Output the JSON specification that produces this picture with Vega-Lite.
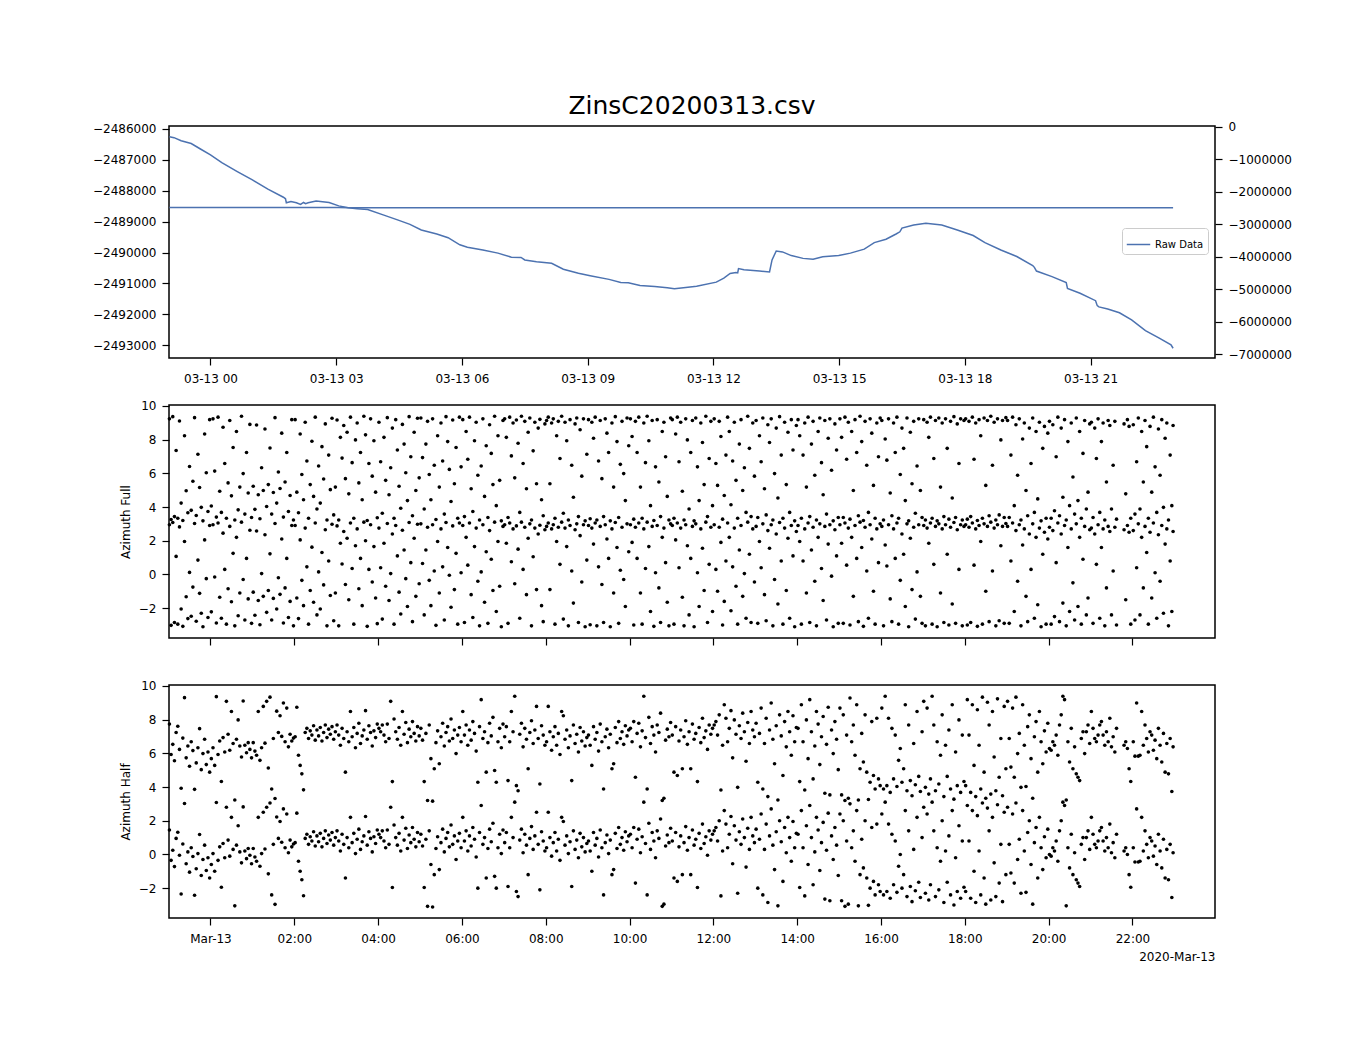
{
"$schema":"https://vega.github.io/schema/vega-lite/v6.json",
"background":"white",
"padding":{"left":91,"top":92,"right":5,"bottom":5},
"config":{"font":"DejaVu Sans","view":{"stroke":"black","strokeWidth":1.5},
"axis":{"domain":false,"grid":false,"tickColor":"black","tickSize":7,"tickWidth":1.2,"labelFontSize":12,"labelColor":"black","labelPadding":6,"titleFontSize":12,"titleFontWeight":"normal","titleColor":"black","labelFont":"DejaVu Sans","titleFont":"DejaVu Sans"}},
"bounds":"flush",
"spacing":47,
"datasets":{
"raw":[{"t":-0.98,"v":-2486250},{"t":-0.87,"v":-2486280},{"t":-0.7,"v":-2486380},{"t":-0.46,"v":-2486470},{"t":-0.25,"v":-2486640},{"t":0.0,"v":-2486840},{"t":0.27,"v":-2487090},{"t":0.64,"v":-2487380},{"t":1.0,"v":-2487650},{"t":1.37,"v":-2487950},{"t":1.74,"v":-2488210},{"t":1.79,"v":-2488260},{"t":1.81,"v":-2488390},{"t":1.92,"v":-2488350},{"t":2.05,"v":-2488390},{"t":2.15,"v":-2488440},{"t":2.22,"v":-2488380},{"t":2.27,"v":-2488420},{"t":2.33,"v":-2488390},{"t":2.52,"v":-2488330},{"t":2.83,"v":-2488380},{"t":3.06,"v":-2488490},{"t":3.29,"v":-2488550},{"t":3.5,"v":-2488580},{"t":3.75,"v":-2488610},{"t":4.12,"v":-2488780},{"t":4.48,"v":-2488950},{"t":4.76,"v":-2489090},{"t":5.03,"v":-2489270},{"t":5.4,"v":-2489400},{"t":5.67,"v":-2489520},{"t":5.95,"v":-2489750},{"t":6.13,"v":-2489830},{"t":6.5,"v":-2489920},{"t":6.86,"v":-2490020},{"t":7.18,"v":-2490150},{"t":7.41,"v":-2490160},{"t":7.5,"v":-2490240},{"t":7.78,"v":-2490300},{"t":8.14,"v":-2490350},{"t":8.42,"v":-2490540},{"t":8.78,"v":-2490670},{"t":9.06,"v":-2490750},{"t":9.51,"v":-2490870},{"t":9.79,"v":-2490970},{"t":9.97,"v":-2490980},{"t":10.25,"v":-2491070},{"t":10.6,"v":-2491100},{"t":10.9,"v":-2491140},{"t":11.07,"v":-2491170},{"t":11.34,"v":-2491130},{"t":11.6,"v":-2491090},{"t":12.07,"v":-2490960},{"t":12.25,"v":-2490830},{"t":12.4,"v":-2490680},{"t":12.54,"v":-2490650},{"t":12.58,"v":-2490660},{"t":12.6,"v":-2490520},{"t":12.73,"v":-2490560},{"t":13.1,"v":-2490600},{"t":13.34,"v":-2490630},{"t":13.4,"v":-2490240},{"t":13.5,"v":-2489950},{"t":13.65,"v":-2489980},{"t":13.86,"v":-2490100},{"t":14.14,"v":-2490190},{"t":14.38,"v":-2490220},{"t":14.61,"v":-2490140},{"t":14.99,"v":-2490100},{"t":15.27,"v":-2490020},{"t":15.6,"v":-2489890},{"t":15.84,"v":-2489680},{"t":16.12,"v":-2489570},{"t":16.36,"v":-2489400},{"t":16.45,"v":-2489330},{"t":16.5,"v":-2489210},{"t":16.78,"v":-2489110},{"t":17.07,"v":-2489050},{"t":17.45,"v":-2489110},{"t":17.82,"v":-2489270},{"t":18.2,"v":-2489450},{"t":18.48,"v":-2489680},{"t":18.86,"v":-2489920},{"t":19.24,"v":-2490130},{"t":19.62,"v":-2490420},{"t":19.66,"v":-2490480},{"t":19.71,"v":-2490600},{"t":20.08,"v":-2490780},{"t":20.42,"v":-2490970},{"t":20.45,"v":-2491160},{"t":20.75,"v":-2491320},{"t":21.12,"v":-2491560},{"t":21.16,"v":-2491720},{"t":21.2,"v":-2491760},{"t":21.41,"v":-2491830},{"t":21.69,"v":-2491950},{"t":21.98,"v":-2492180},{"t":22.31,"v":-2492530},{"t":22.64,"v":-2492770},{"t":22.92,"v":-2492990},{"t":22.97,"v":-2493100}],
"az":[
{"t":-0.98,"f":2.95,"f2":9.23,"h":1.45,"h2":7.73},{"t":-0.94,"f":-3.02,"f2":3.26,"h":-0.35,"h2":5.93},{"t":-0.90,"f":3.08,"f2":9.36,"h":0.25,"h2":6.53},{"t":-0.86,"f":-2.85,"f2":3.43,"h":-0.72,"h2":5.56},{"t":-0.82,"f":1.07,"f2":7.35,"h":0.95,"h2":7.23},{"t":-0.78,"f":-2.95,"f2":3.33,"h":1.32,"h2":7.60},{"t":-0.74,"f":2.82,"f2":9.10,"h":-0.05,"h2":6.23},{"t":-0.70,"f":-2.05,"f2":4.23,"h":-2.35,"h2":3.93},{"t":-0.66,"f":-3.08,"f2":3.20,"h":0.62,"h2":6.90},{"t":-0.62,"f":1.95,"f2":8.23,"h":3.02,"h2":9.30},{"t":-0.58,"f":-1.32,"f2":4.96,"h":-0.55,"h2":5.73},{"t":-0.54,"f":-2.62,"f2":3.66,"h":0.15,"h2":6.43},{"t":-0.50,"f":0.12,"f2":6.40,"h":-1.05,"h2":5.23},{"t":-0.46,"f":-2.48,"f2":3.80,"h":0.40,"h2":6.68},{"t":-0.42,"f":-0.75,"f2":5.53,"h":-0.12,"h2":6.16},{"t":-0.38,"f":3.02,"f2":9.30,"h":-2.42,"h2":3.86},{"t":-0.34,"f":-2.78,"f2":3.50,"h":-0.85,"h2":5.43},{"t":-0.30,"f":0.85,"f2":7.13,"h":0.05,"h2":6.33},{"t":-0.26,"f":-1.12,"f2":5.16,"h":1.18,"h2":7.46},{"t":-0.22,"f":-2.30,"f2":3.98,"h":-1.25,"h2":5.03},{"t":-0.18,"f":-3.10,"f2":3.18,"h":-0.30,"h2":5.98},{"t":-0.14,"f":2.05,"f2":8.33,"h":0.55,"h2":6.83},{"t":-0.10,"f":-0.25,"f2":6.03,"h":-0.95,"h2":5.33},{"t":-0.06,"f":-2.55,"f2":3.73,"h":-0.20,"h2":6.08},{"t":-0.02,"f":2.90,"f2":9.18,"h":-1.40,"h2":4.88},
{"t":0.02,"f":-2.22,"f2":4.06,"h":-0.60,"h2":5.68},{"t":0.06,"f":2.95,"f2":9.23,"h":0.05,"h2":6.33},{"t":0.10,"f":-0.15,"f2":6.13,"h":-1.00,"h2":5.28},{"t":0.14,"f":-2.88,"f2":3.40,"h":3.08,"h2":9.36},{"t":0.18,"f":3.05,"f2":9.33,"h":-0.35,"h2":5.93},{"t":0.22,"f":-1.35,"f2":4.93,"h":0.45,"h2":6.73},{"t":0.26,"f":-2.60,"f2":3.68,"h":-1.95,"h2":4.33},{"t":0.30,"f":2.45,"f2":8.73,"h":0.65,"h2":6.93},{"t":0.34,"f":0.30,"f2":6.58,"h":-0.20,"h2":6.08},{"t":0.38,"f":-2.95,"f2":3.33,"h":2.80,"h2":9.08},{"t":0.42,"f":-0.85,"f2":5.43,"h":0.85,"h2":7.13},{"t":0.46,"f":2.85,"f2":9.13,"h":-0.10,"h2":6.18},{"t":0.50,"f":-1.62,"f2":4.66,"h":2.20,"h2":8.48},{"t":0.54,"f":1.25,"f2":7.53,"h":0.30,"h2":6.58},{"t":0.58,"f":-3.05,"f2":3.23,"h":-3.05,"h2":3.23},{"t":0.62,"f":2.20,"f2":8.48,"h":0.55,"h2":6.83},{"t":0.66,"f":-2.45,"f2":3.83,"h":1.70,"h2":7.98},{"t":0.70,"f":-1.10,"f2":5.18,"h":0.15,"h2":6.43},{"t":0.74,"f":3.10,"f2":9.38,"h":-0.50,"h2":5.78},{"t":0.78,"f":-0.30,"f2":5.98,"h":2.82,"h2":9.10},{"t":0.82,"f":-2.70,"f2":3.58,"h":0.20,"h2":6.48},{"t":0.86,"f":0.95,"f2":7.23,"h":-0.25,"h2":6.03},{"t":0.90,"f":-1.45,"f2":4.83,"h":0.35,"h2":6.63},{"t":0.94,"f":2.62,"f2":8.90,"h":-0.05,"h2":6.23},{"t":0.98,"f":-2.90,"f2":3.38,"h":-0.55,"h2":5.73},
{"t":1.02,"f":-1.05,"f2":5.23,"h":0.35,"h2":6.63},{"t":1.06,"f":-2.42,"f2":3.86,"h":-0.15,"h2":6.13},{"t":1.10,"f":2.58,"f2":8.86,"h":-0.40,"h2":5.88},{"t":1.14,"f":-1.55,"f2":4.73,"h":2.20,"h2":8.48},{"t":1.18,"f":-2.98,"f2":3.30,"h":-0.70,"h2":5.58},{"t":1.22,"f":0.05,"f2":6.33,"h":0.05,"h2":6.33},{"t":1.26,"f":-1.30,"f2":4.98,"h":2.50,"h2":8.78},{"t":1.30,"f":2.35,"f2":8.63,"h":0.32,"h2":6.60},{"t":1.34,"f":-2.25,"f2":4.03,"h":2.80,"h2":9.08},{"t":1.38,"f":-0.95,"f2":5.33,"h":-1.15,"h2":5.13},{"t":1.42,"f":1.22,"f2":7.50,"h":3.05,"h2":9.33},{"t":1.46,"f":-2.70,"f2":3.58,"h":-2.40,"h2":3.88},{"t":1.50,"f":-1.42,"f2":4.86,"h":0.60,"h2":6.88},{"t":1.54,"f":3.02,"f2":9.30,"h":-2.96,"h2":3.32},{"t":1.58,"f":-2.05,"f2":4.23,"h":2.22,"h2":8.50},{"t":1.62,"f":-0.20,"f2":6.08,"h":0.95,"h2":7.23},{"t":1.66,"f":-1.18,"f2":5.10,"h":1.95,"h2":8.23},{"t":1.70,"f":2.10,"f2":8.38,"h":0.72,"h2":7.00},{"t":1.74,"f":-2.88,"f2":3.40,"h":2.70,"h2":8.98},{"t":1.78,"f":-0.80,"f2":5.48,"h":0.40,"h2":6.68},{"t":1.82,"f":0.95,"f2":7.23,"h":2.40,"h2":8.68},{"t":1.86,"f":-2.55,"f2":3.73,"h":0.10,"h2":6.38},{"t":1.90,"f":-1.60,"f2":4.68,"h":0.85,"h2":7.13},{"t":1.94,"f":2.90,"f2":9.18,"h":0.45,"h2":6.73},{"t":1.98,"f":-3.05,"f2":3.23,"h":0.62,"h2":6.90},
{"t":2.02,"f":2.90,"f2":9.18,"h":0.70,"h2":6.98},{"t":2.06,"f":-1.40,"f2":4.88,"h":2.45,"h2":8.73},{"t":2.10,"f":-2.62,"f2":3.66,"h":-0.40,"h2":5.88},{"t":2.14,"f":2.05,"f2":8.33,"h":-1.00,"h2":5.28},{"t":2.18,"f":-0.35,"f2":5.93,"h":-1.50,"h2":4.78},{"t":2.22,"f":-1.85,"f2":4.43,"h":-2.45,"h2":3.83},{"t":2.26,"f":2.75,"f2":9.03,"h":0.95,"h2":7.23},{"t":2.30,"f":0.45,"f2":6.73,"h":1.20,"h2":7.48},{"t":2.34,"f":-2.95,"f2":3.33,"h":0.60,"h2":6.88},{"t":2.38,"f":-0.95,"f2":5.33,"h":1.05,"h2":7.33},{"t":2.42,"f":1.62,"f2":7.90,"h":0.80,"h2":7.08},{"t":2.46,"f":-1.65,"f2":4.63,"h":1.35,"h2":7.63},{"t":2.50,"f":3.05,"f2":9.33,"h":0.50,"h2":6.78},{"t":2.54,"f":-2.40,"f2":3.88,"h":1.10,"h2":7.38},{"t":2.58,"f":0.15,"f2":6.43,"h":0.75,"h2":7.03},{"t":2.62,"f":-2.05,"f2":4.23,"h":1.25,"h2":7.53},{"t":2.66,"f":1.30,"f2":7.58,"h":0.45,"h2":6.73},{"t":2.70,"f":-0.62,"f2":5.66,"h":0.95,"h2":7.23},{"t":2.74,"f":2.65,"f2":8.93,"h":1.40,"h2":7.68},{"t":2.78,"f":-3.05,"f2":3.23,"h":0.65,"h2":6.93},{"t":2.82,"f":0.80,"f2":7.08,"h":1.15,"h2":7.43},{"t":2.86,"f":-1.25,"f2":5.03,"h":0.85,"h2":7.13},{"t":2.90,"f":2.98,"f2":9.26,"h":1.30,"h2":7.58},{"t":2.94,"f":-2.75,"f2":3.53,"h":0.55,"h2":6.83},{"t":2.98,"f":-1.10,"f2":5.18,"h":1.00,"h2":7.28},
{"t":3.02,"f":2.88,"f2":9.16,"h":1.40,"h2":7.68},{"t":3.06,"f":-3.05,"f2":3.23,"h":0.80,"h2":7.08},{"t":3.10,"f":1.85,"f2":8.13,"h":0.20,"h2":6.48},{"t":3.14,"f":0.62,"f2":6.90,"h":1.20,"h2":7.48},{"t":3.18,"f":2.55,"f2":8.83,"h":0.60,"h2":6.88},{"t":3.22,"f":-0.60,"f2":5.68,"h":-1.40,"h2":4.88},{"t":3.26,"f":2.15,"f2":8.43,"h":1.00,"h2":7.28},{"t":3.30,"f":-1.50,"f2":4.78,"h":0.40,"h2":6.68},{"t":3.34,"f":3.05,"f2":9.33,"h":2.20,"h2":8.48},{"t":3.38,"f":0.35,"f2":6.63,"h":0.70,"h2":6.98},{"t":3.42,"f":-2.95,"f2":3.33,"h":1.25,"h2":7.53},{"t":3.46,"f":1.70,"f2":7.98,"h":0.05,"h2":6.33},{"t":3.50,"f":2.70,"f2":8.98,"h":0.90,"h2":7.18},{"t":3.54,"f":-0.85,"f2":5.43,"h":1.50,"h2":7.78},{"t":3.58,"f":0.95,"f2":7.23,"h":0.30,"h2":6.58},{"t":3.62,"f":-1.85,"f2":4.43,"h":0.75,"h2":7.03},{"t":3.66,"f":3.10,"f2":9.38,"h":1.10,"h2":7.38},{"t":3.70,"f":2.00,"f2":8.28,"h":2.25,"h2":8.53},{"t":3.74,"f":-3.08,"f2":3.20,"h":0.55,"h2":6.83},{"t":3.78,"f":0.30,"f2":6.58,"h":1.35,"h2":7.63},{"t":3.82,"f":2.95,"f2":9.23,"h":0.95,"h2":7.23},{"t":3.86,"f":-0.45,"f2":5.83,"h":0.15,"h2":6.43},{"t":3.90,"f":1.65,"f2":7.93,"h":1.05,"h2":7.33},{"t":3.94,"f":-1.40,"f2":4.88,"h":0.65,"h2":6.93},{"t":3.98,"f":-2.92,"f2":3.36,"h":1.45,"h2":7.73},
{"t":4.02,"f":2.75,"f2":9.03,"h":1.20,"h2":7.48},{"t":4.06,"f":0.40,"f2":6.68,"h":1.00,"h2":7.28},{"t":4.10,"f":-2.65,"f2":3.63,"h":1.40,"h2":7.68},{"t":4.14,"f":1.85,"f2":8.13,"h":0.80,"h2":7.08},{"t":4.18,"f":-0.70,"f2":5.58,"h":0.40,"h2":6.68},{"t":4.22,"f":3.02,"f2":9.30,"h":1.45,"h2":7.73},{"t":4.26,"f":-1.55,"f2":4.73,"h":0.60,"h2":6.88},{"t":4.30,"f":0.05,"f2":6.33,"h":2.80,"h2":9.08},{"t":4.34,"f":2.40,"f2":8.68,"h":-1.96,"h2":4.32},{"t":4.38,"f":-2.95,"f2":3.33,"h":1.75,"h2":8.03},{"t":4.42,"f":2.90,"f2":9.18,"h":1.00,"h2":7.28},{"t":4.46,"f":1.10,"f2":7.38,"h":0.55,"h2":6.83},{"t":4.50,"f":-1.05,"f2":5.23,"h":1.25,"h2":7.53},{"t":4.54,"f":-2.35,"f2":3.93,"h":0.20,"h2":6.48},{"t":4.58,"f":2.62,"f2":8.90,"h":2.20,"h2":8.48},{"t":4.62,"f":1.45,"f2":7.73,"h":0.85,"h2":7.13},{"t":4.66,"f":-0.25,"f2":6.03,"h":1.55,"h2":7.83},{"t":4.70,"f":-1.90,"f2":4.38,"h":0.35,"h2":6.63},{"t":4.74,"f":3.08,"f2":9.36,"h":1.15,"h2":7.43},{"t":4.78,"f":0.70,"f2":6.98,"h":0.70,"h2":6.98},{"t":4.82,"f":-2.80,"f2":3.48,"h":1.60,"h2":7.88},{"t":4.86,"f":2.15,"f2":8.43,"h":0.90,"h2":7.18},{"t":4.90,"f":-1.30,"f2":4.98,"h":0.45,"h2":6.73},{"t":4.94,"f":2.98,"f2":9.26,"h":1.30,"h2":7.58},{"t":4.98,"f":-0.55,"f2":5.73,"h":0.75,"h2":7.03},
{"t":5.02,"f":3.00,"f2":9.28,"h":1.20,"h2":7.48},{"t":5.06,"f":0.65,"f2":6.93,"h":0.50,"h2":6.78},{"t":5.10,"f":-2.40,"f2":3.88,"h":-1.96,"h2":4.32},{"t":5.14,"f":1.45,"f2":7.73,"h":0.90,"h2":7.18},{"t":5.18,"f":2.80,"f2":9.08,"h":-3.08,"h2":3.20},{"t":5.22,"f":-0.35,"f2":5.93,"h":1.40,"h2":7.68},{"t":5.26,"f":-1.85,"f2":4.43,"h":-0.60,"h2":5.68},{"t":5.30,"f":2.95,"f2":9.23,"h":-3.12,"h2":3.16},{"t":5.34,"f":0.20,"f2":6.48,"h":-1.20,"h2":5.08},{"t":5.38,"f":-3.02,"f2":3.26,"h":0.35,"h2":6.63},{"t":5.42,"f":1.95,"f2":8.23,"h":1.05,"h2":7.33},{"t":5.46,"f":-1.10,"f2":5.18,"h":-0.90,"h2":5.38},{"t":5.50,"f":2.70,"f2":8.98,"h":0.70,"h2":6.98},{"t":5.54,"f":0.45,"f2":6.73,"h":1.50,"h2":7.78},{"t":5.58,"f":-2.70,"f2":3.58,"h":0.15,"h2":6.43},{"t":5.62,"f":3.08,"f2":9.36,"h":0.95,"h2":7.23},{"t":5.66,"f":1.60,"f2":7.88,"h":1.30,"h2":7.58},{"t":5.70,"f":-0.05,"f2":6.23,"h":0.45,"h2":6.73},{"t":5.74,"f":-1.95,"f2":4.33,"h":1.75,"h2":8.03},{"t":5.78,"f":2.88,"f2":9.16,"h":0.60,"h2":6.88},{"t":5.82,"f":-0.90,"f2":5.38,"h":1.10,"h2":7.38},{"t":5.86,"f":1.25,"f2":7.53,"h":-0.30,"h2":5.98},{"t":5.90,"f":-2.95,"f2":3.33,"h":0.80,"h2":7.08},{"t":5.94,"f":3.05,"f2":9.33,"h":1.25,"h2":7.53},{"t":5.98,"f":0.10,"f2":6.38,"h":0.40,"h2":6.68},
{"t":6.02,"f":2.90,"f2":9.18,"h":2.20,"h2":8.48},{"t":6.06,"f":-2.85,"f2":3.43,"h":0.80,"h2":7.08},{"t":6.10,"f":2.20,"f2":8.48,"h":1.40,"h2":7.68},{"t":6.14,"f":0.55,"f2":6.83,"h":0.20,"h2":6.48},{"t":6.18,"f":3.05,"f2":9.33,"h":1.10,"h2":7.38},{"t":6.22,"f":-1.20,"f2":5.08,"h":0.50,"h2":6.78},{"t":6.26,"f":-2.55,"f2":3.73,"h":1.60,"h2":7.88},{"t":6.30,"f":1.65,"f2":7.93,"h":0.90,"h2":7.18},{"t":6.34,"f":2.75,"f2":9.03,"h":-0.15,"h2":6.13},{"t":6.38,"f":-0.40,"f2":5.88,"h":-2.00,"h2":4.28},{"t":6.42,"f":-3.05,"f2":3.23,"h":1.30,"h2":7.58},{"t":6.46,"f":0.15,"f2":6.43,"h":2.90,"h2":9.18},{"t":6.50,"f":2.95,"f2":9.23,"h":0.60,"h2":6.88},{"t":6.54,"f":-1.65,"f2":4.63,"h":1.00,"h2":7.28},{"t":6.58,"f":1.35,"f2":7.63,"h":-1.40,"h2":4.88},{"t":6.62,"f":-2.90,"f2":3.38,"h":0.35,"h2":6.63},{"t":6.66,"f":2.60,"f2":8.88,"h":1.50,"h2":7.78},{"t":6.70,"f":0.90,"f2":7.18,"h":0.75,"h2":7.03},{"t":6.74,"f":-0.95,"f2":5.33,"h":1.85,"h2":8.13},{"t":6.78,"f":3.10,"f2":9.38,"h":-1.30,"h2":4.98},{"t":6.82,"f":-2.20,"f2":4.08,"h":-2.00,"h2":4.28},{"t":6.86,"f":1.95,"f2":8.23,"h":0.40,"h2":6.68},{"t":6.90,"f":-0.70,"f2":5.58,"h":1.20,"h2":7.48},{"t":6.94,"f":-3.10,"f2":3.18,"h":0.05,"h2":6.33},{"t":6.98,"f":2.85,"f2":9.13,"h":1.45,"h2":7.73},
{"t":7.02,"f":2.95,"f2":9.23,"h":0.70,"h2":6.98},{"t":7.06,"f":1.85,"f2":8.13,"h":1.30,"h2":7.58},{"t":7.10,"f":-2.90,"f2":3.38,"h":-1.90,"h2":4.38},{"t":7.14,"f":3.05,"f2":9.33,"h":0.40,"h2":6.68},{"t":7.18,"f":0.75,"f2":7.03,"h":2.20,"h2":8.48},{"t":7.22,"f":2.70,"f2":8.98,"h":1.00,"h2":7.28},{"t":7.26,"f":-0.55,"f2":5.73,"h":3.10,"h2":9.38},{"t":7.30,"f":2.88,"f2":9.16,"h":-2.20,"h2":4.08},{"t":7.34,"f":1.50,"f2":7.78,"h":-2.50,"h2":3.78},{"t":7.38,"f":-2.60,"f2":3.68,"h":0.85,"h2":7.13},{"t":7.42,"f":3.10,"f2":9.38,"h":1.50,"h2":7.78},{"t":7.46,"f":0.30,"f2":6.58,"h":0.10,"h2":6.38},{"t":7.50,"f":2.80,"f2":9.08,"h":1.20,"h2":7.48},{"t":7.54,"f":-1.20,"f2":5.08,"h":0.55,"h2":6.83},{"t":7.58,"f":2.15,"f2":8.43,"h":-1.20,"h2":5.08},{"t":7.62,"f":3.00,"f2":9.28,"h":0.95,"h2":7.23},{"t":7.66,"f":-3.05,"f2":3.23,"h":1.65,"h2":7.93},{"t":7.70,"f":1.05,"f2":7.33,"h":0.30,"h2":6.58},{"t":7.74,"f":2.75,"f2":9.03,"h":1.10,"h2":7.38},{"t":7.78,"f":-0.90,"f2":5.38,"h":2.50,"h2":8.78},{"t":7.82,"f":2.40,"f2":8.68,"h":0.60,"h2":6.88},{"t":7.86,"f":2.92,"f2":9.20,"h":-2.10,"h2":4.18},{"t":7.90,"f":-1.85,"f2":4.43,"h":1.35,"h2":7.63},{"t":7.94,"f":-2.80,"f2":3.48,"h":0.80,"h2":7.08},{"t":7.98,"f":2.65,"f2":8.93,"h":0.20,"h2":6.48},
{"t":8.02,"f":2.85,"f2":9.13,"h":0.40,"h2":6.68},{"t":8.06,"f":3.05,"f2":9.33,"h":2.50,"h2":8.78},{"t":8.10,"f":-0.90,"f2":5.38,"h":1.00,"h2":7.28},{"t":8.14,"f":2.70,"f2":8.98,"h":-0.10,"h2":6.18},{"t":8.18,"f":2.95,"f2":9.23,"h":0.70,"h2":6.98},{"t":8.22,"f":-2.95,"f2":3.33,"h":1.30,"h2":7.58},{"t":8.26,"f":1.95,"f2":8.23,"h":0.20,"h2":6.48},{"t":8.30,"f":2.80,"f2":9.08,"h":0.90,"h2":7.18},{"t":8.34,"f":0.60,"f2":6.88,"h":-0.35,"h2":5.93},{"t":8.38,"f":3.10,"f2":9.38,"h":2.20,"h2":8.48},{"t":8.42,"f":-2.65,"f2":3.63,"h":1.95,"h2":8.23},{"t":8.46,"f":2.75,"f2":9.03,"h":0.55,"h2":6.83},{"t":8.50,"f":1.65,"f2":7.93,"h":1.10,"h2":7.38},{"t":8.54,"f":-3.05,"f2":3.23,"h":0.05,"h2":6.33},{"t":8.58,"f":2.90,"f2":9.18,"h":0.75,"h2":7.03},{"t":8.62,"f":0.20,"f2":6.48,"h":-1.90,"h2":4.38},{"t":8.66,"f":-1.70,"f2":4.58,"h":1.40,"h2":7.68},{"t":8.70,"f":2.65,"f2":8.93,"h":0.30,"h2":6.58},{"t":8.74,"f":3.00,"f2":9.28,"h":0.85,"h2":7.13},{"t":8.78,"f":-2.85,"f2":3.43,"h":-0.20,"h2":6.08},{"t":8.82,"f":2.30,"f2":8.58,"h":1.25,"h2":7.53},{"t":8.86,"f":-0.45,"f2":5.83,"h":0.45,"h2":6.73},{"t":8.90,"f":2.95,"f2":9.23,"h":1.00,"h2":7.28},{"t":8.94,"f":-3.10,"f2":3.18,"h":0.15,"h2":6.43},{"t":8.98,"f":0.85,"f2":7.13,"h":0.65,"h2":6.93},
{"t":9.02,"f":2.90,"f2":9.18,"h":0.80,"h2":7.08},{"t":9.06,"f":-2.98,"f2":3.30,"h":0.20,"h2":6.48},{"t":9.10,"f":2.75,"f2":9.03,"h":-1.00,"h2":5.28},{"t":9.14,"f":1.80,"f2":8.08,"h":1.30,"h2":7.58},{"t":9.18,"f":3.05,"f2":9.33,"h":0.55,"h2":6.83},{"t":9.22,"f":-3.05,"f2":3.23,"h":0.95,"h2":7.23},{"t":9.26,"f":0.45,"f2":6.73,"h":-0.15,"h2":6.13},{"t":9.30,"f":2.85,"f2":9.13,"h":1.45,"h2":7.73},{"t":9.34,"f":-0.60,"f2":5.68,"h":0.40,"h2":6.68},{"t":9.38,"f":-2.85,"f2":3.43,"h":-2.40,"h2":3.88},{"t":9.42,"f":2.95,"f2":9.23,"h":0.70,"h2":6.98},{"t":9.46,"f":2.10,"f2":8.38,"h":1.15,"h2":7.43},{"t":9.50,"f":0.95,"f2":7.23,"h":0.05,"h2":6.33},{"t":9.54,"f":-3.10,"f2":3.18,"h":0.85,"h2":7.13},{"t":9.58,"f":2.70,"f2":8.98,"h":-1.20,"h2":5.08},{"t":9.62,"f":-1.10,"f2":5.18,"h":-0.90,"h2":5.38},{"t":9.66,"f":3.08,"f2":9.36,"h":1.25,"h2":7.53},{"t":9.70,"f":1.60,"f2":7.88,"h":0.35,"h2":6.63},{"t":9.74,"f":-2.90,"f2":3.38,"h":1.60,"h2":7.88},{"t":9.78,"f":0.25,"f2":6.53,"h":0.60,"h2":6.88},{"t":9.82,"f":2.80,"f2":9.08,"h":1.00,"h2":7.28},{"t":9.86,"f":-0.30,"f2":5.98,"h":0.25,"h2":6.53},{"t":9.90,"f":-1.90,"f2":4.38,"h":1.35,"h2":7.63},{"t":9.94,"f":3.00,"f2":9.28,"h":0.75,"h2":7.03},{"t":9.98,"f":1.35,"f2":7.63,"h":1.10,"h2":7.38},
{"t":10.02,"f":2.95,"f2":9.23,"h":1.20,"h2":7.48},{"t":10.06,"f":1.90,"f2":8.18,"h":0.40,"h2":6.68},{"t":10.10,"f":-3.00,"f2":3.28,"h":1.60,"h2":7.88},{"t":10.14,"f":2.80,"f2":9.08,"h":-1.70,"h2":4.58},{"t":10.18,"f":0.95,"f2":7.23,"h":0.90,"h2":7.18},{"t":10.22,"f":3.05,"f2":9.33,"h":1.50,"h2":7.78},{"t":10.26,"f":-1.10,"f2":5.18,"h":0.10,"h2":6.38},{"t":10.30,"f":-2.95,"f2":3.33,"h":1.05,"h2":7.33},{"t":10.34,"f":2.70,"f2":8.98,"h":3.10,"h2":9.38},{"t":10.38,"f":0.35,"f2":6.63,"h":0.65,"h2":6.93},{"t":10.42,"f":3.10,"f2":9.38,"h":-2.40,"h2":3.88},{"t":10.46,"f":1.65,"f2":7.93,"h":1.85,"h2":8.13},{"t":10.50,"f":-2.20,"f2":4.08,"h":0.30,"h2":6.58},{"t":10.54,"f":2.85,"f2":9.13,"h":1.30,"h2":7.58},{"t":10.58,"f":-3.08,"f2":3.20,"h":0.80,"h2":7.08},{"t":10.62,"f":0.10,"f2":6.38,"h":-0.20,"h2":6.08},{"t":10.66,"f":2.90,"f2":9.18,"h":1.40,"h2":7.68},{"t":10.70,"f":-0.80,"f2":5.48,"h":0.95,"h2":7.23},{"t":10.74,"f":-2.85,"f2":3.43,"h":2.10,"h2":8.38},{"t":10.78,"f":2.20,"f2":8.48,"h":-3.08,"h2":3.20},{"t":10.82,"f":2.75,"f2":9.03,"h":-2.95,"h2":3.33},{"t":10.86,"f":0.70,"f2":6.98,"h":0.50,"h2":6.78},{"t":10.90,"f":-1.65,"f2":4.63,"h":1.15,"h2":7.43},{"t":10.94,"f":-3.05,"f2":3.23,"h":0.70,"h2":6.98},{"t":10.98,"f":3.00,"f2":9.28,"h":1.55,"h2":7.83},
{"t":11.02,"f":2.90,"f2":9.18,"h":0.80,"h2":7.08},{"t":11.06,"f":-2.95,"f2":3.33,"h":-1.40,"h2":4.88},{"t":11.10,"f":2.05,"f2":8.33,"h":1.30,"h2":7.58},{"t":11.14,"f":3.05,"f2":9.33,"h":-1.60,"h2":4.68},{"t":11.18,"f":0.40,"f2":6.68,"h":0.45,"h2":6.73},{"t":11.22,"f":2.75,"f2":9.03,"h":1.10,"h2":7.38},{"t":11.26,"f":-1.35,"f2":4.93,"h":-1.20,"h2":5.08},{"t":11.30,"f":-3.05,"f2":3.23,"h":0.70,"h2":6.98},{"t":11.34,"f":2.95,"f2":9.23,"h":1.65,"h2":7.93},{"t":11.38,"f":1.70,"f2":7.98,"h":0.25,"h2":6.53},{"t":11.42,"f":-2.40,"f2":3.88,"h":1.00,"h2":7.28},{"t":11.46,"f":0.95,"f2":7.23,"h":-1.20,"h2":5.08},{"t":11.50,"f":2.85,"f2":9.13,"h":1.45,"h2":7.73},{"t":11.54,"f":-3.10,"f2":3.18,"h":0.55,"h2":6.83},{"t":11.58,"f":3.00,"f2":9.28,"h":0.90,"h2":7.18},{"t":11.62,"f":0.10,"f2":6.38,"h":-1.96,"h2":4.32},{"t":11.66,"f":-1.90,"f2":4.38,"h":1.25,"h2":7.53},{"t":11.70,"f":2.70,"f2":8.98,"h":0.35,"h2":6.63},{"t":11.74,"f":1.55,"f2":7.83,"h":1.80,"h2":8.08},{"t":11.78,"f":-0.95,"f2":5.33,"h":0.65,"h2":6.93},{"t":11.82,"f":3.10,"f2":9.38,"h":1.05,"h2":7.33},{"t":11.86,"f":-2.85,"f2":3.43,"h":-0.05,"h2":6.23},{"t":11.90,"f":0.60,"f2":6.88,"h":1.40,"h2":7.68},{"t":11.94,"f":2.80,"f2":9.08,"h":0.85,"h2":7.13},{"t":11.98,"f":-2.20,"f2":4.08,"h":1.20,"h2":7.48},
{"t":12.02,"f":2.95,"f2":9.23,"h":1.40,"h2":7.68},{"t":12.06,"f":0.30,"f2":6.58,"h":1.60,"h2":7.88},{"t":12.10,"f":-1.00,"f2":5.28,"h":0.80,"h2":7.08},{"t":12.14,"f":2.80,"f2":9.08,"h":2.00,"h2":8.28},{"t":12.18,"f":1.90,"f2":8.18,"h":-2.46,"h2":3.82},{"t":12.22,"f":-3.00,"f2":3.28,"h":0.20,"h2":6.48},{"t":12.26,"f":-1.60,"f2":4.68,"h":2.60,"h2":8.88},{"t":12.30,"f":0.80,"f2":7.08,"h":1.80,"h2":8.08},{"t":12.34,"f":3.05,"f2":9.33,"h":0.40,"h2":6.68},{"t":12.38,"f":2.20,"f2":8.48,"h":1.20,"h2":7.48},{"t":12.42,"f":-2.15,"f2":4.13,"h":2.25,"h2":8.53},{"t":12.46,"f":0.45,"f2":6.73,"h":-0.55,"h2":5.73},{"t":12.50,"f":2.75,"f2":9.03,"h":1.70,"h2":7.98},{"t":12.54,"f":-0.70,"f2":5.58,"h":0.85,"h2":7.13},{"t":12.58,"f":-2.95,"f2":3.33,"h":-2.30,"h2":3.98},{"t":12.62,"f":1.45,"f2":7.73,"h":1.35,"h2":7.63},{"t":12.66,"f":2.90,"f2":9.18,"h":0.60,"h2":6.88},{"t":12.70,"f":-1.30,"f2":4.98,"h":2.10,"h2":8.38},{"t":12.74,"f":0.05,"f2":6.33,"h":1.00,"h2":7.28},{"t":12.78,"f":-2.60,"f2":3.68,"h":-0.75,"h2":5.53},{"t":12.82,"f":3.10,"f2":9.38,"h":1.55,"h2":7.83},{"t":12.86,"f":1.20,"f2":7.48,"h":0.30,"h2":6.58},{"t":12.90,"f":-2.85,"f2":3.43,"h":2.20,"h2":8.48},{"t":12.94,"f":2.70,"f2":8.98,"h":1.10,"h2":7.38},{"t":12.98,"f":-0.45,"f2":5.83,"h":0.70,"h2":6.98},
{"t":13.02,"f":2.85,"f2":9.13,"h":1.50,"h2":7.78},{"t":13.06,"f":-2.90,"f2":3.38,"h":-2.00,"h2":4.28},{"t":13.10,"f":1.95,"f2":8.23,"h":0.90,"h2":7.18},{"t":13.14,"f":0.40,"f2":6.68,"h":2.40,"h2":8.68},{"t":13.18,"f":3.00,"f2":9.28,"h":-2.40,"h2":3.88},{"t":13.22,"f":-1.20,"f2":5.08,"h":0.30,"h2":6.58},{"t":13.26,"f":-2.75,"f2":3.53,"h":1.80,"h2":8.08},{"t":13.30,"f":2.60,"f2":8.88,"h":-2.85,"h2":3.43},{"t":13.34,"f":1.55,"f2":7.83,"h":1.10,"h2":7.38},{"t":13.38,"f":2.95,"f2":9.23,"h":2.70,"h2":8.98},{"t":13.42,"f":-3.05,"f2":3.23,"h":0.55,"h2":6.83},{"t":13.46,"f":-0.30,"f2":5.98,"h":-0.90,"h2":5.38},{"t":13.50,"f":2.40,"f2":8.68,"h":1.35,"h2":7.63},{"t":13.54,"f":-1.75,"f2":4.53,"h":-3.05,"h2":3.23},{"t":13.58,"f":3.08,"f2":9.36,"h":2.00,"h2":8.28},{"t":13.62,"f":0.80,"f2":7.08,"h":0.75,"h2":7.03},{"t":13.66,"f":-2.95,"f2":3.33,"h":-1.60,"h2":4.68},{"t":13.70,"f":2.75,"f2":9.03,"h":1.60,"h2":7.88},{"t":13.74,"f":-0.95,"f2":5.33,"h":0.10,"h2":6.38},{"t":13.78,"f":2.15,"f2":8.43,"h":2.20,"h2":8.48},{"t":13.82,"f":-2.60,"f2":3.68,"h":1.00,"h2":7.28},{"t":13.86,"f":2.90,"f2":9.18,"h":-0.40,"h2":5.88},{"t":13.90,"f":1.10,"f2":7.38,"h":1.95,"h2":8.23},{"t":13.94,"f":-3.10,"f2":3.18,"h":0.40,"h2":6.68},{"t":13.98,"f":2.55,"f2":8.83,"h":1.25,"h2":7.53},
{"t":14.02,"f":2.90,"f2":9.18,"h":1.20,"h2":7.48},{"t":14.06,"f":1.95,"f2":8.23,"h":-1.96,"h2":4.32},{"t":14.10,"f":-2.95,"f2":3.33,"h":2.60,"h2":8.88},{"t":14.14,"f":0.80,"f2":7.08,"h":0.40,"h2":6.68},{"t":14.18,"f":2.70,"f2":8.98,"h":-2.46,"h2":3.82},{"t":14.22,"f":-1.10,"f2":5.18,"h":1.70,"h2":7.98},{"t":14.26,"f":3.05,"f2":9.33,"h":-0.60,"h2":5.68},{"t":14.30,"f":-2.85,"f2":3.43,"h":2.90,"h2":9.18},{"t":14.34,"f":1.45,"f2":7.73,"h":1.00,"h2":7.28},{"t":14.38,"f":2.80,"f2":9.08,"h":-1.80,"h2":4.48},{"t":14.42,"f":-0.40,"f2":5.88,"h":0.15,"h2":6.43},{"t":14.46,"f":-3.05,"f2":3.23,"h":2.20,"h2":8.48},{"t":14.50,"f":2.20,"f2":8.48,"h":1.45,"h2":7.73},{"t":14.54,"f":3.00,"f2":9.28,"h":-0.95,"h2":5.33},{"t":14.58,"f":0.35,"f2":6.63,"h":0.70,"h2":6.98},{"t":14.62,"f":-1.55,"f2":4.73,"h":1.90,"h2":8.18},{"t":14.66,"f":2.85,"f2":9.13,"h":-2.65,"h2":3.63},{"t":14.70,"f":-2.70,"f2":3.58,"h":0.25,"h2":6.53},{"t":14.74,"f":1.80,"f2":8.08,"h":2.45,"h2":8.73},{"t":14.78,"f":2.95,"f2":9.23,"h":-2.75,"h2":3.53},{"t":14.82,"f":-0.10,"f2":6.18,"h":1.10,"h2":7.38},{"t":14.86,"f":-3.10,"f2":3.18,"h":-0.30,"h2":5.98},{"t":14.90,"f":2.65,"f2":8.93,"h":1.60,"h2":7.88},{"t":14.94,"f":1.10,"f2":7.38,"h":0.55,"h2":6.83},{"t":14.98,"f":-2.90,"f2":3.38,"h":-1.25,"h2":5.03},
{"t":15.02,"f":2.95,"f2":9.23,"h":2.40,"h2":8.68},{"t":15.06,"f":1.85,"f2":8.13,"h":-2.75,"h2":3.53},{"t":15.10,"f":-2.90,"f2":3.38,"h":2.00,"h2":8.28},{"t":15.14,"f":3.05,"f2":9.33,"h":-3.08,"h2":3.20},{"t":15.18,"f":0.55,"f2":6.83,"h":0.80,"h2":7.08},{"t":15.22,"f":2.75,"f2":9.03,"h":-2.95,"h2":3.33},{"t":15.26,"f":-3.00,"f2":3.28,"h":3.00,"h2":9.28},{"t":15.30,"f":2.20,"f2":8.48,"h":0.40,"h2":6.68},{"t":15.34,"f":-1.30,"f2":4.98,"h":1.40,"h2":7.68},{"t":15.38,"f":2.90,"f2":9.18,"h":-0.40,"h2":5.88},{"t":15.42,"f":0.95,"f2":7.23,"h":2.60,"h2":8.88},{"t":15.46,"f":-2.80,"f2":3.48,"h":-3.05,"h2":3.23},{"t":15.50,"f":3.10,"f2":9.38,"h":-1.20,"h2":5.08},{"t":15.54,"f":1.60,"f2":7.88,"h":0.90,"h2":7.18},{"t":15.58,"f":-3.08,"f2":3.20,"h":-0.80,"h2":5.48},{"t":15.62,"f":2.80,"f2":9.08,"h":2.00,"h2":8.28},{"t":15.66,"f":0.20,"f2":6.48,"h":-1.40,"h2":4.88},{"t":15.70,"f":-2.60,"f2":3.68,"h":-3.02,"h2":3.26},{"t":15.74,"f":2.95,"f2":9.23,"h":-2.00,"h2":4.28},{"t":15.78,"f":2.10,"f2":8.38,"h":1.60,"h2":7.88},{"t":15.82,"f":-1.00,"f2":5.28,"h":-1.60,"h2":4.68},{"t":15.86,"f":-2.95,"f2":3.33,"h":-2.40,"h2":3.88},{"t":15.90,"f":2.70,"f2":8.98,"h":1.80,"h2":8.08},{"t":15.94,"f":0.70,"f2":6.98,"h":-1.80,"h2":4.48},{"t":15.98,"f":3.00,"f2":9.28,"h":-2.20,"h2":4.08},
{"t":16.02,"f":2.85,"f2":9.13,"h":2.40,"h2":8.68},{"t":16.06,"f":-3.05,"f2":3.23,"h":-2.40,"h2":3.88},{"t":16.10,"f":1.75,"f2":8.03,"h":3.10,"h2":9.38},{"t":16.14,"f":0.50,"f2":6.78,"h":-2.20,"h2":4.08},{"t":16.18,"f":2.95,"f2":9.23,"h":1.80,"h2":8.08},{"t":16.22,"f":-1.45,"f2":4.83,"h":-2.60,"h2":3.68},{"t":16.26,"f":-2.80,"f2":3.48,"h":1.20,"h2":7.48},{"t":16.30,"f":2.70,"f2":8.98,"h":-1.80,"h2":4.48},{"t":16.34,"f":0.95,"f2":7.23,"h":0.80,"h2":7.08},{"t":16.38,"f":3.05,"f2":9.33,"h":-2.25,"h2":4.03},{"t":16.42,"f":-2.95,"f2":3.33,"h":-0.70,"h2":5.58},{"t":16.46,"f":-0.35,"f2":5.93,"h":0.00,"h2":6.28},{"t":16.50,"f":2.40,"f2":8.68,"h":-2.00,"h2":4.28},{"t":16.54,"f":1.20,"f2":7.48,"h":-1.20,"h2":5.08},{"t":16.58,"f":-1.90,"f2":4.38,"h":2.60,"h2":8.88},{"t":16.62,"f":3.00,"f2":9.28,"h":-2.50,"h2":3.78},{"t":16.66,"f":-3.10,"f2":3.18,"h":1.40,"h2":7.68},{"t":16.70,"f":2.15,"f2":8.43,"h":-1.90,"h2":4.38},{"t":16.74,"f":-0.90,"f2":5.38,"h":-2.80,"h2":3.48},{"t":16.78,"f":2.80,"f2":9.08,"h":0.30,"h2":6.58},{"t":16.82,"f":-2.65,"f2":3.63,"h":-2.15,"h2":4.13},{"t":16.86,"f":0.15,"f2":6.43,"h":2.20,"h2":8.48},{"t":16.90,"f":2.95,"f2":9.23,"h":-1.65,"h2":4.63},{"t":16.94,"f":-1.30,"f2":4.98,"h":-2.55,"h2":3.73},{"t":16.98,"f":-2.90,"f2":3.38,"h":1.00,"h2":7.28},
{"t":17.02,"f":2.90,"f2":9.18,"h":2.80,"h2":9.08},{"t":17.06,"f":-3.05,"f2":3.23,"h":-2.30,"h2":3.98},{"t":17.10,"f":2.75,"f2":9.03,"h":2.40,"h2":8.68},{"t":17.14,"f":1.85,"f2":8.13,"h":-2.70,"h2":3.58},{"t":17.18,"f":3.05,"f2":9.33,"h":-1.80,"h2":4.48},{"t":17.22,"f":-2.95,"f2":3.33,"h":3.10,"h2":9.38},{"t":17.26,"f":0.60,"f2":6.88,"h":1.40,"h2":7.68},{"t":17.30,"f":2.85,"f2":9.13,"h":-2.50,"h2":3.78},{"t":17.34,"f":-3.10,"f2":3.18,"h":0.40,"h2":6.68},{"t":17.38,"f":3.00,"f2":9.28,"h":-2.10,"h2":4.18},{"t":17.42,"f":-1.10,"f2":5.18,"h":-0.40,"h2":5.88},{"t":17.46,"f":2.70,"f2":8.98,"h":2.00,"h2":8.28},{"t":17.50,"f":-2.85,"f2":3.43,"h":-2.85,"h2":3.43},{"t":17.54,"f":2.95,"f2":9.23,"h":0.20,"h2":6.48},{"t":17.58,"f":1.20,"f2":7.48,"h":-1.65,"h2":4.63},{"t":17.62,"f":-3.00,"f2":3.28,"h":1.10,"h2":7.38},{"t":17.66,"f":2.80,"f2":9.08,"h":-2.40,"h2":3.88},{"t":17.70,"f":-1.75,"f2":4.53,"h":2.60,"h2":8.88},{"t":17.74,"f":3.08,"f2":9.36,"h":-3.00,"h2":3.28},{"t":17.78,"f":-2.90,"f2":3.38,"h":-0.20,"h2":6.08},{"t":17.82,"f":2.65,"f2":8.93,"h":-2.20,"h2":4.08},{"t":17.86,"f":0.30,"f2":6.58,"h":1.70,"h2":7.98},{"t":17.90,"f":2.95,"f2":9.23,"h":-2.60,"h2":3.68},{"t":17.94,"f":-3.05,"f2":3.23,"h":0.80,"h2":7.08},{"t":17.98,"f":2.85,"f2":9.13,"h":-1.95,"h2":4.33},
{"t":18.02,"f":2.95,"f2":9.23,"h":-2.20,"h2":4.08},{"t":18.06,"f":-3.00,"f2":3.28,"h":2.90,"h2":9.18},{"t":18.10,"f":2.80,"f2":9.08,"h":0.80,"h2":7.08},{"t":18.14,"f":-2.85,"f2":3.43,"h":-2.60,"h2":3.68},{"t":18.18,"f":3.05,"f2":9.33,"h":2.60,"h2":8.88},{"t":18.22,"f":0.55,"f2":6.83,"h":-1.00,"h2":5.28},{"t":18.26,"f":2.70,"f2":8.98,"h":-2.85,"h2":3.43},{"t":18.30,"f":-3.08,"f2":3.20,"h":2.30,"h2":8.58},{"t":18.34,"f":2.90,"f2":9.18,"h":0.20,"h2":6.48},{"t":18.38,"f":1.95,"f2":8.23,"h":-2.40,"h2":3.88},{"t":18.42,"f":-2.95,"f2":3.33,"h":3.05,"h2":9.33},{"t":18.46,"f":3.00,"f2":9.28,"h":-1.40,"h2":4.88},{"t":18.50,"f":-1.00,"f2":5.28,"h":-2.95,"h2":3.33},{"t":18.54,"f":2.85,"f2":9.13,"h":2.75,"h2":9.03},{"t":18.58,"f":-2.80,"f2":3.48,"h":1.40,"h2":7.68},{"t":18.62,"f":3.10,"f2":9.38,"h":-2.70,"h2":3.58},{"t":18.66,"f":0.20,"f2":6.48,"h":2.20,"h2":8.48},{"t":18.70,"f":2.75,"f2":9.03,"h":-0.50,"h2":5.78},{"t":18.74,"f":-3.05,"f2":3.23,"h":-2.50,"h2":3.78},{"t":18.78,"f":2.95,"f2":9.23,"h":2.95,"h2":9.23},{"t":18.82,"f":-2.75,"f2":3.53,"h":-1.70,"h2":4.58},{"t":18.86,"f":1.70,"f2":7.98,"h":0.60,"h2":6.88},{"t":18.90,"f":2.85,"f2":9.13,"h":-2.80,"h2":3.48},{"t":18.94,"f":-2.90,"f2":3.38,"h":2.50,"h2":8.78},{"t":18.98,"f":3.02,"f2":9.30,"h":-1.20,"h2":5.08},
{"t":19.02,"f":2.85,"f2":9.13,"h":2.80,"h2":9.08},{"t":19.06,"f":-2.90,"f2":3.38,"h":0.60,"h2":6.88},{"t":19.10,"f":0.80,"f2":7.08,"h":-1.10,"h2":5.18},{"t":19.14,"f":3.05,"f2":9.33,"h":2.40,"h2":8.68},{"t":19.18,"f":-2.20,"f2":4.08,"h":-1.70,"h2":4.58},{"t":19.22,"f":2.60,"f2":8.88,"h":3.05,"h2":9.33},{"t":19.26,"f":-0.40,"f2":5.88,"h":-0.30,"h2":5.98},{"t":19.30,"f":2.95,"f2":9.23,"h":0.90,"h2":7.18},{"t":19.34,"f":-3.05,"f2":3.23,"h":-2.30,"h2":3.98},{"t":19.38,"f":1.75,"f2":8.03,"h":2.60,"h2":8.88},{"t":19.42,"f":2.70,"f2":8.98,"h":0.20,"h2":6.48},{"t":19.46,"f":-1.30,"f2":4.98,"h":-2.25,"h2":4.03},{"t":19.50,"f":-2.80,"f2":3.48,"h":1.30,"h2":7.58},{"t":19.54,"f":2.40,"f2":8.68,"h":2.00,"h2":8.28},{"t":19.58,"f":0.30,"f2":6.58,"h":-0.60,"h2":5.68},{"t":19.62,"f":3.00,"f2":9.28,"h":-2.95,"h2":3.33},{"t":19.66,"f":-2.60,"f2":3.68,"h":0.70,"h2":6.98},{"t":19.70,"f":2.20,"f2":8.48,"h":1.60,"h2":7.88},{"t":19.74,"f":-1.80,"f2":4.48,"h":-1.40,"h2":4.88},{"t":19.78,"f":2.75,"f2":9.03,"h":2.20,"h2":8.48},{"t":19.82,"f":-3.10,"f2":3.18,"h":0.40,"h2":6.68},{"t":19.86,"f":1.20,"f2":7.48,"h":-0.90,"h2":5.38},{"t":19.90,"f":2.50,"f2":8.78,"h":1.05,"h2":7.33},{"t":19.94,"f":-2.95,"f2":3.33,"h":-0.20,"h2":6.08},{"t":19.98,"f":2.10,"f2":8.38,"h":1.50,"h2":7.78},
{"t":20.02,"f":2.80,"f2":9.08,"h":0.00,"h2":6.28},{"t":20.06,"f":-2.95,"f2":3.33,"h":-0.10,"h2":6.18},{"t":20.10,"f":2.60,"f2":8.88,"h":0.40,"h2":6.68},{"t":20.14,"f":-2.50,"f2":3.78,"h":0.20,"h2":6.48},{"t":20.18,"f":0.70,"f2":6.98,"h":0.80,"h2":7.08},{"t":20.22,"f":3.05,"f2":9.33,"h":-0.40,"h2":5.88},{"t":20.26,"f":-2.80,"f2":3.48,"h":1.40,"h2":7.68},{"t":20.30,"f":2.40,"f2":8.68,"h":2.00,"h2":8.28},{"t":20.34,"f":-1.70,"f2":4.58,"h":3.10,"h2":9.38},{"t":20.38,"f":2.90,"f2":9.18,"h":2.90,"h2":9.18},{"t":20.42,"f":-3.05,"f2":3.23,"h":-3.05,"h2":3.23},{"t":20.46,"f":1.60,"f2":7.88,"h":0.40,"h2":6.68},{"t":20.50,"f":-2.20,"f2":4.08,"h":-0.80,"h2":5.48},{"t":20.54,"f":2.70,"f2":8.98,"h":1.20,"h2":7.48},{"t":20.58,"f":-0.50,"f2":5.78,"h":-1.20,"h2":5.08},{"t":20.62,"f":-2.70,"f2":3.58,"h":0.10,"h2":6.38},{"t":20.66,"f":3.00,"f2":9.28,"h":-1.50,"h2":4.78},{"t":20.70,"f":-1.90,"f2":4.38,"h":-1.70,"h2":4.58},{"t":20.74,"f":2.20,"f2":8.48,"h":-1.90,"h2":4.38},{"t":20.78,"f":-2.95,"f2":3.33,"h":0.60,"h2":6.88},{"t":20.82,"f":0.90,"f2":7.18,"h":1.00,"h2":7.28},{"t":20.86,"f":2.85,"f2":9.13,"h":-0.30,"h2":5.98},{"t":20.90,"f":-2.40,"f2":3.88,"h":1.00,"h2":7.28},{"t":20.94,"f":-1.40,"f2":4.88,"h":1.40,"h2":7.68},{"t":20.98,"f":2.65,"f2":8.93,"h":0.30,"h2":6.58},
{"t":21.02,"f":2.75,"f2":9.03,"h":2.20,"h2":8.48},{"t":21.06,"f":-2.90,"f2":3.38,"h":1.20,"h2":7.48},{"t":21.10,"f":2.40,"f2":8.68,"h":0.60,"h2":6.88},{"t":21.14,"f":0.60,"f2":6.88,"h":0.40,"h2":6.68},{"t":21.18,"f":2.95,"f2":9.23,"h":0.80,"h2":7.08},{"t":21.22,"f":-2.60,"f2":3.68,"h":1.40,"h2":7.68},{"t":21.26,"f":1.60,"f2":7.88,"h":1.60,"h2":7.88},{"t":21.30,"f":2.70,"f2":8.98,"h":0.80,"h2":7.08},{"t":21.34,"f":-3.05,"f2":3.23,"h":0.20,"h2":6.48},{"t":21.38,"f":-0.80,"f2":5.48,"h":1.00,"h2":7.28},{"t":21.42,"f":2.85,"f2":9.13,"h":0.40,"h2":6.68},{"t":21.46,"f":2.55,"f2":8.83,"h":1.80,"h2":8.08},{"t":21.50,"f":-2.40,"f2":3.88,"h":0.10,"h2":6.38},{"t":21.54,"f":0.20,"f2":6.48,"h":0.70,"h2":6.98},{"t":21.58,"f":2.80,"f2":9.08,"h":-0.20,"h2":6.08},{"t":21.62,"f":-3.00,"f2":3.28,"h":1.20,"h2":7.48},{"t":21.80,"f":2.65,"f2":8.93,"h":0.20,"h2":6.48},{"t":21.84,"f":-1.50,"f2":4.78,"h":0.40,"h2":6.68},{"t":21.88,"f":2.90,"f2":9.18,"h":0.00,"h2":6.28},{"t":21.92,"f":2.50,"f2":8.78,"h":-1.20,"h2":5.08},{"t":21.96,"f":-2.95,"f2":3.33,"h":-1.95,"h2":4.33},
{"t":22.02,"f":2.60,"f2":8.88,"h":0.40,"h2":6.68},{"t":22.06,"f":-2.70,"f2":3.58,"h":-0.45,"h2":5.83},{"t":22.10,"f":0.40,"f2":6.68,"h":2.70,"h2":8.98},{"t":22.14,"f":3.00,"f2":9.28,"h":-0.45,"h2":5.83},{"t":22.18,"f":-2.40,"f2":3.88,"h":-0.40,"h2":5.88},{"t":22.22,"f":2.20,"f2":8.48,"h":2.20,"h2":8.48},{"t":22.26,"f":-0.80,"f2":5.48,"h":0.20,"h2":6.48},{"t":22.30,"f":2.85,"f2":9.13,"h":1.40,"h2":7.68},{"t":22.34,"f":1.30,"f2":7.58,"h":0.60,"h2":6.88},{"t":22.38,"f":-2.95,"f2":3.33,"h":-0.20,"h2":6.08},{"t":22.42,"f":2.50,"f2":8.78,"h":1.00,"h2":7.28},{"t":22.46,"f":-1.40,"f2":4.88,"h":0.80,"h2":7.08},{"t":22.50,"f":3.05,"f2":9.33,"h":-0.10,"h2":6.18},{"t":22.54,"f":0.10,"f2":6.38,"h":0.50,"h2":6.78},{"t":22.58,"f":-2.60,"f2":3.68,"h":-0.60,"h2":5.68},{"t":22.62,"f":2.35,"f2":8.63,"h":1.20,"h2":7.48},{"t":22.66,"f":-0.40,"f2":5.88,"h":0.20,"h2":6.48},{"t":22.70,"f":2.90,"f2":9.18,"h":-0.80,"h2":5.48},{"t":22.74,"f":-2.30,"f2":3.98,"h":0.90,"h2":7.18},{"t":22.78,"f":1.80,"f2":8.08,"h":-1.40,"h2":4.88},{"t":22.82,"f":2.70,"f2":8.98,"h":0.30,"h2":6.58},{"t":22.86,"f":-3.05,"f2":3.23,"h":-1.50,"h2":4.78},{"t":22.90,"f":0.80,"f2":7.08,"h":0.60,"h2":6.88},{"t":22.94,"f":-2.20,"f2":4.08,"h":-2.55,"h2":3.73},{"t":22.97,"f":2.55,"f2":8.83,"h":0.10,"h2":6.38}
]},
"vconcat":[
{"width":1046,"height":232,
"title":{"text":"ZinsC20200313.csv","fontSize":25,"fontWeight":"normal","font":"DejaVu Sans","color":"black","frame":"group","anchor":"middle","offset":2},
"data":{"name":"raw"},
"layer":[
{"mark":{"type":"line","strokeWidth":1.5,"color":"#4c72b0"},
"encoding":{
"x":{"field":"t","type":"quantitative","scale":{"domain":[-0.99,23.97],"nice":false,"zero":false},"axis":{"values":[0,3,6,9,12,15,18,21],"labelExpr":"'03-13 ' + (datum.value < 10 ? '0' : '') + datum.value","title":null,"labelPadding":8}},
"y":{"field":"v","type":"quantitative","scale":{"domain":[-2493416,-2485903],"nice":false,"zero":false},"axis":{"values":[-2486000,-2487000,-2488000,-2489000,-2490000,-2491000,-2492000,-2493000],"format":"d","title":null}},
"color":{"datum":"Raw Data","type":"nominal","scale":{"range":["#4c72b0"]},"legend":{"title":null,"orient":"none","legendX":953,"legendY":102,"strokeColor":"#cccccc","fillColor":"white","padding":4,"cornerRadius":3,"symbolType":"stroke","symbolSize":550,"symbolStrokeWidth":1.5,"labelFontSize":10,"labelFont":"DejaVu Sans","labelColor":"black"}}}},
{"mark":{"type":"line","strokeWidth":1.5,"color":"#4c72b0"},
"encoding":{
"x":{"field":"t","type":"quantitative"},
"y":{"field":"v","type":"quantitative","scale":{"domain":[-7110000,20000],"nice":false,"zero":false},"axis":{"orient":"right","values":[0,-1000000,-2000000,-3000000,-4000000,-5000000,-6000000,-7000000],"format":"d","title":null}}}}
],
"resolve":{"scale":{"y":"independent"}}},
{"width":1046,"height":233,
"data":{"name":"az"},
"layer":[
{"mark":{"type":"point","filled":true,"size":13,"color":"black","opacity":1},
"encoding":{
"x":{"field":"t","type":"quantitative","scale":{"domain":[-0.99,23.97],"nice":false,"zero":false},"axis":{"values":[0,2,4,6,8,10,12,14,16,18,20,22],"labels":false,"title":null}},
"y":{"field":"f","type":"quantitative","scale":{"domain":[-3.77,10.05],"nice":false,"zero":false},"axis":{"values":[-2,0,2,4,6,8,10],"title":"Azimuth Full","titlePadding":6}}}},
{"mark":{"type":"point","filled":true,"size":13,"color":"black","opacity":1},
"encoding":{
"x":{"field":"t","type":"quantitative"},
"y":{"field":"f2","type":"quantitative","axis":{"values":[-2,0,2,4,6,8,10],"title":"Azimuth Full","titlePadding":6}}}}
]},
{"width":1046,"height":233,
"data":{"name":"az"},
"layer":[
{"mark":{"type":"point","filled":true,"size":13,"color":"black","opacity":1},
"encoding":{
"x":{"field":"t","type":"quantitative","scale":{"domain":[-0.99,23.97],"nice":false,"zero":false},"axis":{"values":[0,2,4,6,8,10,12,14,16,18,20,22],"labelExpr":"datum.value == 0 ? 'Mar-13' : (datum.value < 10 ? '0' : '') + datum.value + ':00'","labelPadding":8,"title":"2020-Mar-13","titleAnchor":"end","titleFontSize":12,"titlePadding":7}},
"y":{"field":"h","type":"quantitative","scale":{"domain":[-3.77,10.05],"nice":false,"zero":false},"axis":{"values":[-2,0,2,4,6,8,10],"title":"Azimuth Half","titlePadding":6}}}},
{"mark":{"type":"point","filled":true,"size":13,"color":"black","opacity":1},
"encoding":{
"x":{"field":"t","type":"quantitative"},
"y":{"field":"h2","type":"quantitative","axis":{"values":[-2,0,2,4,6,8,10],"title":"Azimuth Half","titlePadding":6}}}}
]}
]
}
